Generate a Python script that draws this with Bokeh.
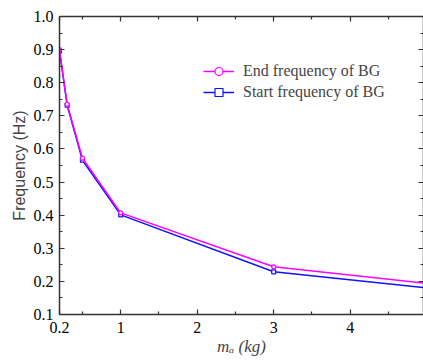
from bokeh.plotting import figure
from bokeh.models import (FixedTicker, LinearAxis, Legend, LegendItem, Range1d)
from bokeh.embed import file_html
from bokeh.resources import INLINE

# ---- data ----
mass = [0.2, 0.3, 0.5, 1.0, 3.0, 5.0]
end_freq = [0.900, 0.735, 0.572, 0.407, 0.244, 0.194]
start_freq = [0.896, 0.732, 0.566, 0.401, 0.229, 0.180]

x_ticks = [0.2, 1, 2, 3, 4]
x_tick_labels = ["0.2", "1", "2", "3", "4"]
x_minor = [0.5, 1.5, 2.5, 3.5, 4.5]
y_ticks = [0.1, 0.2, 0.3, 0.4, 0.5, 0.6, 0.7, 0.8, 0.9, 1.0]
y_tick_labels = ["0.1", "0.2", "0.3", "0.4", "0.5", "0.6", "0.7", "0.8", "0.9", "1.0"]
y_minor = [0.15, 0.25, 0.35, 0.45, 0.55, 0.65, 0.75, 0.85, 0.95]

SERIF = "Times New Roman"
AX_FONT = "'Times New Roman'"
SANS = "Liberation Sans"
AXC = "#333333"

p = figure(width=423, height=361, output_backend="svg", toolbar_location=None,
           x_range=Range1d(0.2, 4.958), y_range=Range1d(0.1, 1.0),
           x_axis_location=None, y_axis_location=None,
           min_border_left=59, min_border_right=0, min_border_top=16, min_border_bottom=47)
p.outline_line_color = None
p.xgrid.visible = False
p.ygrid.visible = False
p.background_fill_color = "white"


def style(ax, labels=True):
    ax.axis_line_color = AXC
    ax.axis_line_width = 1.5
    ax.major_tick_line_color = AXC
    ax.minor_tick_line_color = AXC
    ax.major_tick_line_width = 1.2
    ax.minor_tick_line_width = 1.2
    ax.major_tick_in = 5
    ax.major_tick_out = 0
    ax.minor_tick_in = 3
    ax.minor_tick_out = 0
    ax.major_label_text_font = AX_FONT
    ax.major_label_text_font_size = "16px" if labels else "0px"
    ax.major_label_text_color = "black"
    if not labels:
        ax.major_label_standoff = 0


xt = FixedTicker(ticks=x_ticks, minor_ticks=x_minor)
yt = FixedTicker(ticks=y_ticks, minor_ticks=y_minor)

bottom = LinearAxis(ticker=xt, major_label_overrides=dict(zip(x_ticks, x_tick_labels)),
                    axis_label="m\u2090 (kg)")
style(bottom)
bottom.major_label_standoff = 7
bottom.axis_label_text_font = AX_FONT
bottom.axis_label_text_font_size = "17px"
bottom.axis_label_text_font_style = "italic"
bottom.axis_label_standoff = 1

top = LinearAxis(ticker=xt)
style(top, labels=False)

left = LinearAxis(ticker=yt, major_label_overrides=dict(zip(y_ticks, y_tick_labels)),
                  axis_label="Frequency (Hz)")
style(left)
left.major_label_standoff = 6
left.axis_label_text_font = SANS
left.axis_label_text_font_size = "16px"
left.axis_label_text_font_style = "normal"
left.axis_label_standoff = 3

right = LinearAxis(ticker=yt)
style(right, labels=False)

p.add_layout(bottom, "below")
p.add_layout(top, "above")
p.add_layout(left, "left")
p.add_layout(right, "right")

BLUE = "#1010ff"
MAG = "#ff00ff"

l_start = p.line(mass, start_freq, color=BLUE, line_width=1.5)
s_start = p.scatter(mass, start_freq, marker="square", size=4, line_color=BLUE,
                    fill_color="white", line_width=1.2)
l_end = p.line(mass, end_freq, color=MAG, line_width=1.5)
s_end = p.scatter(mass, end_freq, marker="circle", size=4, line_color=MAG,
                  fill_color="white", line_width=1.2)

legend = Legend(items=[LegendItem(label="End frequency of BG", renderers=[l_end, s_end]),
                       LegendItem(label="Start frequency of BG", renderers=[l_start, s_start])],
                location=(144, 212), padding=0, margin=0, spacing=1,
                label_height=20, glyph_height=20, glyph_width=31, label_standoff=9,
                label_text_font=SERIF, label_text_font_size="16px",
                border_line_color=None, background_fill_alpha=0)
p.add_layout(legend, "center")

open("out.html", "w").write(file_html(p, INLINE))
